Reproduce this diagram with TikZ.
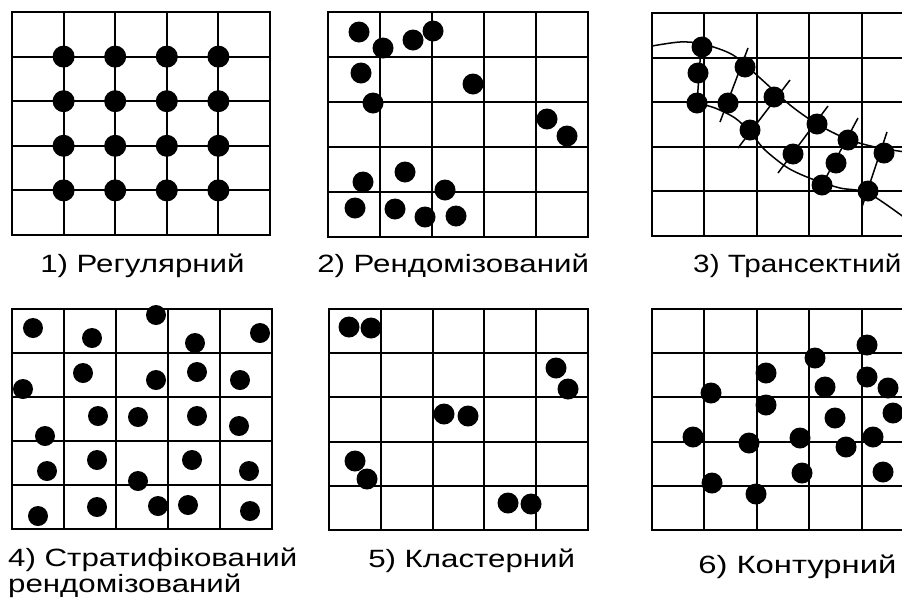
\documentclass[tikz,border=0pt]{standalone}
\usepackage{fontspec}
\setmainfont{Liberation Sans}
\begin{document}
\begin{tikzpicture}[x=1pt, y=-1pt,
    gridline/.style={line width=2.1pt},
    frameline/.style={line width=2.6pt},
    trline/.style={line width=1.5pt},
    caption/.style={font=\fontsize{25}{26}\selectfont, inner sep=0pt, xscale=1.25, anchor=base west, align=left}]

    \path[use as bounding box, clip] (0,0) rectangle (902,611);
    \fill[white] (0,0) rectangle (902,611);

    % Grids
    \foreach \px/\py/\cw/\ch in {12/12/51.6/44.6, 328/12/52/45, 652/13/52.4/44.6,
                                 12/309/52/44, 329/309/51.8/44.2, 652/309/52.4/44.2} {
        \foreach \i in {1,...,4} {
            \draw[gridline] (\px+\i*\cw,\py) -- (\px+\i*\cw,\py+5*\ch);
            \draw[gridline] (\px,\py+\i*\ch) -- (\px+5*\cw,\py+\i*\ch);
        }
        \draw[frameline] (\px,\py) rectangle (\px+5*\cw,\py+5*\ch);
    }

    % 1) Regular
    \foreach \i in {1,...,4} {
        \foreach \j in {1,...,4} {
            \fill (12+\i*51.6,12+\j*44.6) circle (11pt);
        }
    }

    % 2) Random
    \foreach \x/\y in {359/32, 383/48, 413/40, 433/31, 361/73, 373/103, 473/84,
                       547/119, 567/136, 405/172, 363/182, 445/190, 355/208,
                       395/209, 425/217, 456/216}
        \fill (\x,\y) circle (10.5pt);

    % 3) Transect
    \draw[trline] plot[smooth] coordinates {(652,46) (680,42) (703,44) (733,55)
        (760,78) (790,105) (817,124) (847,139) (875,147) (905,152)};
    \draw[trline] plot[smooth] coordinates {(697,103) (715,108) (735,118)
        (750,132) (765,150) (788,168) (812,179) (840,188) (868,193) (905,218)};
    \draw[trline] (701,48) -- (697,103);
    \draw[trline] (720,122) -- (748,48);
    \draw[trline] (790,80) -- (738,148);
    \draw[trline] (828,106) -- (778,173);
    \draw[trline] (858,118) -- (822,185);
    \draw[trline] (887,132) -- (862,207);
    \foreach \x/\y in {702/47, 698/73, 697/103, 745/67, 728/103, 774/97, 750/130,
                       817/124, 793/154, 848/140, 836/163, 884/153, 822/185, 868/191}
        \fill (\x,\y) circle (10.5pt);

    % 4) Stratified random
    \foreach \x/\y in {33/328, 92/338, 156/315, 195/343, 260/333,
                       23/389, 83/373, 156/380, 197/372, 240/380,
                       98/416, 138/417, 197/416, 239/426, 45/436,
                       47/471, 97/460, 138/481, 192/460, 249/471,
                       38/516, 97/507, 158/506, 188/505, 250/511}
        \fill (\x,\y) circle (10pt);

    % 5) Cluster
    \foreach \x/\y in {349/327, 371/328, 556/368, 568/389, 444/414, 468/416,
                       355/461, 367/479, 508/503, 531/504}
        \fill (\x,\y) circle (10.5pt);

    % 6) Contour
    \foreach \x/\y in {867/345, 815/358, 766/373, 867/377, 825/387, 888/388,
                       711/393, 766/405, 835/418, 893/413, 693/437, 749/443,
                       800/438, 873/437, 846/447, 802/473, 883/472, 712/483, 756/494}
        \fill (\x,\y) circle (10.5pt);

    % Captions
    \node[caption] (regular) at (40,272) {1) Регулярний};
    \node[caption] (random) at (317,272) {2) Рендомізований};
    \node[caption, xscale=0.95] (transect) at (693,272) {3) Трансектний};
    \node[caption] (stratified) at (8,592) {4) Стратифікований\\рендомізований};
    \node[caption] (cluster) at (368,567) {5) Кластерний};
    \node[caption, xscale=1.05] (contour) at (698,573) {6) Контурний};
\end{tikzpicture}
\end{document}
